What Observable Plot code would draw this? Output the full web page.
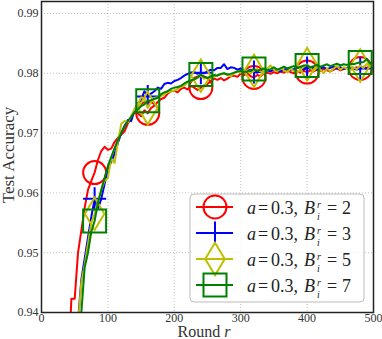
<!DOCTYPE html>
<html>
<head>
<meta charset="utf-8">
<script src="https://cdn.jsdelivr.net/npm/d3@7"></script>
<script src="https://cdn.jsdelivr.net/npm/@observablehq/plot@0.6"></script>
<style>
  html, body { margin: 0; padding: 0; background: #fff; }
  #chart { width: 382px; height: 339px; position: relative; }
  svg { overflow: visible; }
</style>
</head>
<body>
<div id="chart"></div>
<script>
// ---- Data ----
const rounds = d3.range(40, 505, 5); // 40 .. 500
const xTicks = [0, 100, 200, 300, 400, 500];
const yTicks = [0.94, 0.95, 0.96, 0.97, 0.98, 0.99];
const seriesNames = ["B2", "B3", "B5", "B7"];
const seriesLabels = ["2", "3", "5", "7"];
const seriesColors = ["#ff0000", "#0000ff", "#bfbf00", "#008000"];
const markerRounds = [80, 160, 240, 320, 400, 480];

const red = [
  0.930, 0.9423, 0.9423, 0.9500, 0.9537, 0.9575, 0.9605, 0.9620, 0.9634, 0.9655,
  0.9670, 0.9677, 0.9672, 0.9674, 0.9685, 0.9692, 0.9697, 0.9703, 0.9716, 0.9725,
  0.9735, 0.9733, 0.9728, 0.9738, 0.9733, 0.9742, 0.9746, 0.9752, 0.9757, 0.9759,
  0.9766, 0.9770, 0.9771, 0.9768, 0.9774, 0.9776, 0.9773, 0.9779, 0.9776, 0.9772,
  0.9776, 0.9780, 0.9782, 0.9787, 0.9791, 0.9789, 0.9792, 0.9788, 0.9791, 0.9795,
  0.9796, 0.9794, 0.9799, 0.9797, 0.9800, 0.9795, 0.9793, 0.9797, 0.9795, 0.9800,
  0.9801, 0.9799, 0.9802, 0.9800, 0.9803, 0.9801, 0.9804, 0.9802, 0.9800, 0.9803,
  0.9801, 0.9804, 0.9802, 0.9805, 0.9803, 0.9806, 0.9804, 0.9807, 0.9805, 0.9803,
  0.9806, 0.9808, 0.9805, 0.9807, 0.9809, 0.9806, 0.9808, 0.9810, 0.9808, 0.9811,
  0.9809, 0.9812, 0.9810
];
const blue = [
  null, null, null, 0.9385, 0.9455, 0.9490, 0.9525, 0.9560, 0.9590, 0.9573,
  0.9590, 0.9615, 0.9640, 0.9652, 0.9665, 0.9683, 0.9700, 0.9712, 0.9722, 0.9720,
  0.9738, 0.9750, 0.9755, 0.9770, 0.9761, 0.9766, 0.9770, 0.9776, 0.9774, 0.9782,
  0.9784, 0.9783, 0.9787, 0.9789, 0.9792, 0.9796, 0.9799, 0.9801, 0.9802, 0.9799,
  0.9801, 0.9800, 0.9803, 0.9806, 0.9805, 0.9809, 0.9809, 0.9815, 0.9807, 0.9810,
  0.9809, 0.9806, 0.9808, 0.9805, 0.9804, 0.9806, 0.9802, 0.9801, 0.9804, 0.9802,
  0.9805, 0.9803, 0.9806, 0.9804, 0.9803, 0.9806, 0.9808, 0.9805, 0.9807, 0.9810,
  0.9808, 0.9806, 0.9809, 0.9807, 0.9809, 0.9806, 0.9808, 0.9810, 0.9807, 0.9809,
  0.9811, 0.9808, 0.9810, 0.9807, 0.9809, 0.9811, 0.9808, 0.9806, 0.9808, 0.9810,
  0.9807, 0.9809, 0.9808
];
const yellow = [
  null, null, null, 0.9380, 0.9450, 0.9480, 0.9515, 0.9550, 0.9565, 0.9585,
  0.9605, 0.9620, 0.9625, 0.9658, 0.9650, 0.9685, 0.9715, 0.9720, 0.9718, 0.9728,
  0.9740, 0.9748, 0.9760, 0.9758, 0.9742, 0.9752, 0.9759, 0.9760, 0.9762, 0.9765,
  0.9768, 0.9770, 0.9771, 0.9774, 0.9777, 0.9779, 0.9785, 0.9787, 0.9790, 0.9792,
  0.9796, 0.9791, 0.9793, 0.9792, 0.9794, 0.9797, 0.9798, 0.9800, 0.9797, 0.9795,
  0.9800, 0.9803, 0.9801, 0.9806, 0.9803, 0.9800, 0.9804, 0.9807, 0.9803, 0.9800,
  0.9808, 0.9813, 0.9806, 0.9803, 0.9809, 0.9805, 0.9802, 0.9807, 0.9804, 0.9801,
  0.9806, 0.9811, 0.9815, 0.9808, 0.9804, 0.9810, 0.9806, 0.9800, 0.9808, 0.9803,
  0.9808, 0.9812, 0.9806, 0.9810, 0.9808, 0.9805, 0.9810, 0.9807, 0.9813, 0.9809,
  0.9816, 0.9811, 0.9813
];
const green = [
  null, null, null, 0.9360, 0.9400, 0.9475, 0.9500, 0.9535, 0.9553, 0.9583,
  0.9605, 0.9625, 0.9645, 0.9660, 0.9675, 0.9688, 0.9700, 0.9710, 0.9720, 0.9727,
  0.9735, 0.9740, 0.9745, 0.9748, 0.9754, 0.9755, 0.9757, 0.9759, 0.9765, 0.9768,
  0.9770, 0.9774, 0.9776, 0.9777, 0.9779, 0.9783, 0.9786, 0.9788, 0.9790, 0.9793,
  0.9798, 0.9794, 0.9792, 0.9795, 0.9797, 0.9796, 0.9799, 0.9800, 0.9798, 0.9799,
  0.9801, 0.9803, 0.9804, 0.9802, 0.9803, 0.9805, 0.9807, 0.9804, 0.9806, 0.9808,
  0.9805, 0.9807, 0.9810, 0.9806, 0.9808, 0.9811, 0.9808, 0.9810, 0.9812, 0.9809,
  0.9811, 0.9813, 0.9813, 0.9810, 0.9812, 0.9814, 0.9811, 0.9813, 0.9815, 0.9812,
  0.9814, 0.9816, 0.9813, 0.9815, 0.9814, 0.9816, 0.9815, 0.9817, 0.9818, 0.9819,
  0.9824, 0.9816, 0.9818
];
const seriesValues = [red, blue, yellow, green];

// ---- Marker symbols (matplotlib-like: o, +, d, s) ----
const MS = 11.5; // half marker size in px
const symCircle = { draw(c, size) { const r = Math.sqrt(size / Math.PI); c.moveTo(r, 0); c.arc(0, 0, r, 0, 2 * Math.PI); c.closePath(); } };
const symPlus = { draw(c, size) { const r = Math.sqrt(size / Math.PI); c.moveTo(-r, 0); c.lineTo(r, 0); c.moveTo(0, -r); c.lineTo(0, r); } };
const symThinDiamond = { draw(c, size) { const r = Math.sqrt(size / Math.PI); const h = Math.SQRT2 * r, w = 0.6 * h; c.moveTo(0, -h); c.lineTo(w, 0); c.lineTo(0, h); c.lineTo(-w, 0); c.closePath(); } };
const symSquare = { draw(c, size) { const r = Math.sqrt(size / Math.PI); c.rect(-r, -r, 2 * r, 2 * r); } };
const seriesSymbols = [symCircle, symPlus, symThinDiamond, symSquare];

// ---- Table ----
const rows = [];
seriesNames.forEach((s, i) => {
  rounds.forEach((r, j) => rows.push({ series: s, round: r, value: seriesValues[i][j] }));
});

const marks = [
  Plot.gridX(xTicks, { stroke: "#b0b0b0", strokeOpacity: 1, strokeDasharray: "1,2", strokeWidth: 0.8 }),
  Plot.gridY(yTicks, { stroke: "#b0b0b0", strokeOpacity: 1, strokeDasharray: "1,2", strokeWidth: 0.8 }),
];
seriesNames.forEach((s, i) => {
  const data = rows.filter(d => d.series === s);
  marks.push(Plot.line(data, { x: "round", y: "value", stroke: seriesColors[i], strokeWidth: 2, clip: true }));
  marks.push(Plot.dot(data.filter(d => markerRounds.includes(d.round) && d.value != null), {
    x: "round", y: "value", r: MS, symbol: seriesSymbols[i], stroke: seriesColors[i], fill: "none", strokeWidth: 2, clip: true
  }));
});
marks.push(Plot.axisX(xTicks, { tickSize: 0, tickPadding: 1, label: null, fontSize: 12, fill: "#333" }));
marks.push(Plot.axisY(yTicks, { tickSize: 0, tickPadding: 3, label: null, tickFormat: d3.format(".2f"), fontSize: 12, fill: "#333" }));
marks.push(Plot.frame({ stroke: "#222", strokeWidth: 1.5 }));

const W = 382, H = 339;
const chart = Plot.plot({
  width: W, height: H,
  marginTop: 1, marginBottom: 27, marginLeft: 41, marginRight: 9,
  style: { fontFamily: "'Liberation Serif', serif", fontSize: "12px", background: "#fff", color: "#333" },
  x: { domain: [0, 500] },
  y: { domain: [0.94, 0.992] },
  marks
});
document.getElementById("chart").appendChild(chart);

// ---- Axis titles & legend ----
const svg = d3.select(chart);
const serif = "'Liberation Serif', serif";

const xl = svg.append("text").attr("x", 204).attr("y", 337).attr("text-anchor", "middle")
  .attr("font-family", serif).attr("font-size", 16).attr("fill", "#333").style("white-space", "pre");
xl.append("tspan").text("Round ");
xl.append("tspan").attr("font-style", "italic").text("r");

svg.append("text").attr("transform", "translate(14,155) rotate(-90)").attr("text-anchor", "middle")
  .attr("font-family", serif).attr("font-size", 17).attr("fill", "#333").text("Test Accuracy");

const lg = svg.append("g");
lg.append("rect").attr("x", 190).attr("y", 194).attr("width", 174).attr("height", 108).attr("rx", 4)
  .attr("fill", "#fff").attr("fill-opacity", 0.8).attr("stroke", "#bbb").attr("stroke-width", 1);
const rowY = [207, 233, 259, 285];
seriesNames.forEach((s, i) => {
  const y = rowY[i];
  lg.append("line").attr("x1", 196).attr("x2", 233).attr("y1", y).attr("y2", y)
    .attr("stroke", seriesColors[i]).attr("stroke-width", 2);
  lg.append("path").attr("transform", `translate(215,${y})`)
    .attr("d", d3.symbol(seriesSymbols[i], MS * MS * Math.PI)())
    .attr("fill", "none").attr("stroke", seriesColors[i]).attr("stroke-width", 2);
  const base = y + 7;
  const txt = (x, yy, str, opts = {}) => lg.append("text").attr("x", x).attr("y", yy)
    .attr("text-anchor", "start").attr("font-family", serif)
    .attr("font-size", opts.size || 18).attr("font-style", opts.italic ? "italic" : "normal")
    .attr("fill", "#222").text(str);
  txt(247, base, "a", { italic: true });
  txt(258, base, "=");
  txt(271, base, "0.3,");
  txt(304, base, "B", { italic: true });
  txt(317, base - 6, "r", { italic: true, size: 10 });
  txt(317, base + 6, "i", { italic: true, size: 10 });
  txt(327, base, "=");
  txt(342, base, seriesLabels[i]);
});
</script>
</body>
</html>
